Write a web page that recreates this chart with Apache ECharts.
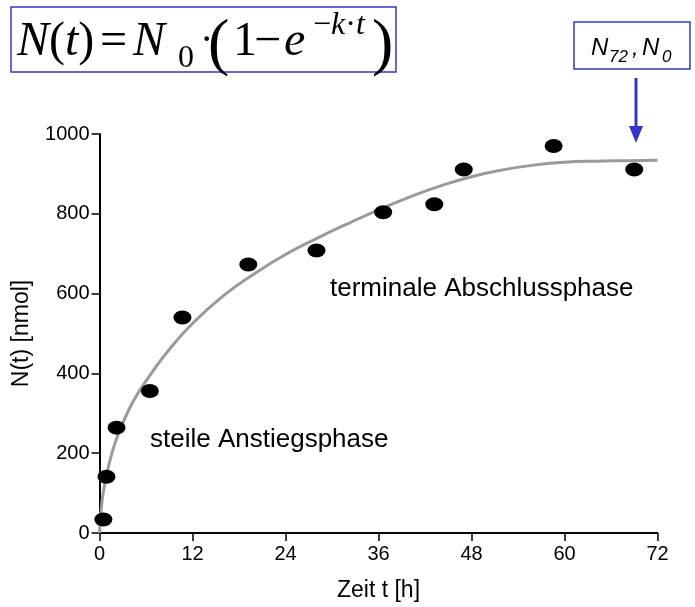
<!DOCTYPE html>
<html>
<head>
<meta charset="utf-8">
<script src="https://cdn.jsdelivr.net/npm/echarts@6/dist/echarts.min.js"></script>
<style>
  html, body { margin: 0; padding: 0; background: #fff; }
  #chart { width: 695px; height: 607px; }
</style>
</head>
<body>
<div id="chart"></div>
<script>
// Measured amounts N(t) in nmol at sampling times t in hours
const timesH = [0.5, 0.9, 2.2, 6.5, 10.7, 19.2, 28.0, 36.6, 43.2, 47.0, 58.6, 69.0];
const amountsNmol = [34, 141, 264, 356, 540, 673, 708, 804, 824, 911, 970, 911];

// Fitted saturation curve, sampled along the time axis
const curveT = [0, 0.3, 0.7, 1.2, 2, 3, 4.5, 6.5, 9, 12, 16, 20, 24, 28, 32, 36, 40, 44, 48, 52, 56, 60, 64, 68, 72];
const curveN = [0, 75, 125, 170, 225, 275, 335, 395, 460, 525, 595, 650, 698, 738, 775, 810, 842, 870, 893, 910, 922, 929, 932, 933, 934];

// Axis ticks
const xTicks = [0, 12, 24, 36, 48, 60, 72];
const yTicks = [0, 200, 400, 600, 800, 1000];

const blue = '#3434c8';
const sans = '"Liberation Sans", Arial, sans-serif';
const serif = '"Liberation Serif", "Times New Roman", serif';

const chart = echarts.init(document.getElementById('chart'), null, { renderer: 'canvas' });

function txt(x, y, text, font, extra) {
  return {
    type: 'text', x: x, y: y, z: 10,
    style: Object.assign({ text: text, font: font, fill: '#000', verticalAlign: 'bottom', align: 'left' }, extra || {})
  };
}

// N(t) = N0 · (1 − e^(−k·t))
const formula = {
  type: 'group',
  children: [
    txt(17, 66, '', '48px ' + serif, {
      text: '{i|N}{r|(}{i|t}{r|)}',
      rich: {
        i: { font: 'italic 48px ' + serif, fill: '#000' },
        r: { font: '48px ' + serif, fill: '#000' }
      }
    }),
    txt(100, 66, '=', '48px ' + serif),
    txt(133, 66, 'N', 'italic 48px ' + serif),
    txt(178, 75, '0', '32px ' + serif),
    txt(200, 61, '·', '40px ' + serif),
    txt(208, 78, '(', '64px ' + serif),
    txt(233, 66, '1', '48px ' + serif),
    txt(254, 66, '−', '48px ' + serif),
    txt(284, 66, 'e', 'italic 48px ' + serif),
    txt(313, 42, '', '32px ' + serif, {
      text: '{r|−}{i|k}{r|·}{i|t}',
      rich: {
        i: { font: 'italic 32px ' + serif, fill: '#000' },
        r: { font: '32px ' + serif, fill: '#000' }
      }
    }),
    txt(372, 78, ')', '64px ' + serif)
  ]
};

const option = {
  animation: false,
  backgroundColor: '#fff',
  grid: { left: 99.5, right: 37.5, top: 134, bottom: 70, containLabel: false },
  xAxis: {
    type: 'value', min: 0, max: 72, interval: 12,
    name: 'Zeit t [h]', nameLocation: 'middle', nameGap: 46,
    nameTextStyle: { fontFamily: sans, fontSize: 23, color: '#000' },
    axisLine: { lineStyle: { color: '#000', width: 2 } },
    axisTick: { show: true, length: 8, lineStyle: { color: '#000', width: 1.5 } },
    axisLabel: { color: '#000', fontFamily: sans, fontSize: 20, margin: 11,
      formatter: v => xTicks.includes(v) ? String(v) : '' },
    splitLine: { show: false }
  },
  yAxis: {
    type: 'value', min: 0, max: 1000, interval: 200,
    name: 'N(t) [nmol]', nameLocation: 'middle', nameGap: 66, nameRotate: 90,
    nameTextStyle: { fontFamily: sans, fontSize: 23, color: '#000' },
    axisLine: { show: true, lineStyle: { color: '#000', width: 2 } },
    axisTick: { show: true, length: 8, lineStyle: { color: '#000', width: 1.5 } },
    axisLabel: { color: '#000', fontFamily: sans, fontSize: 20, margin: 10,
      formatter: v => yTicks.includes(v) ? String(v) : '' },
    splitLine: { show: false }
  },
  series: [
    {
      type: 'line',
      data: curveT.map((t, i) => [t, curveN[i]]),
      smooth: 0.5, showSymbol: false, symbol: 'none',
      lineStyle: { color: '#9a9a9a', width: 3 },
      z: 2
    },
    {
      type: 'scatter',
      data: timesH.map((t, i) => [t, amountsNmol[i]]),
      symbol: 'circle', symbolSize: [18, 14],
      itemStyle: { color: '#000', opacity: 1 },
      z: 3
    }
  ],
  graphic: [
    // formula box
    { type: 'rect', shape: { x: 11, y: 7, width: 385, height: 65 },
      style: { fill: 'none', stroke: blue, lineWidth: 1.5 }, z: 9 },
    formula,
    // N72, N0 box
    { type: 'rect', shape: { x: 574, y: 22, width: 116, height: 47 },
      style: { fill: '#fff', stroke: blue, lineWidth: 1.5 }, z: 9 },
    txt(591, 60, 'N', 'italic 24px ' + sans),
    txt(609, 66, '72', 'italic 17px ' + sans),
    txt(632, 60, ',', 'italic 24px ' + sans),
    txt(642, 60, 'N', 'italic 24px ' + sans),
    txt(662, 66, '0', 'italic 17px ' + sans),
    // arrow pointing to the plateau
    { type: 'line', shape: { x1: 636, y1: 78, x2: 636, y2: 128 },
      style: { stroke: blue, lineWidth: 3 }, z: 9 },
    { type: 'polygon', shape: { points: [[629, 126], [643, 126], [636, 143]] },
      style: { fill: blue }, z: 9 },
    // phase annotations
    txt(150, 453, 'steile Anstiegsphase', '26px ' + sans),
    txt(330, 302, 'terminale Abschlussphase', '26px ' + sans)
  ]
};

chart.setOption(option);
</script>
</body>
</html>
